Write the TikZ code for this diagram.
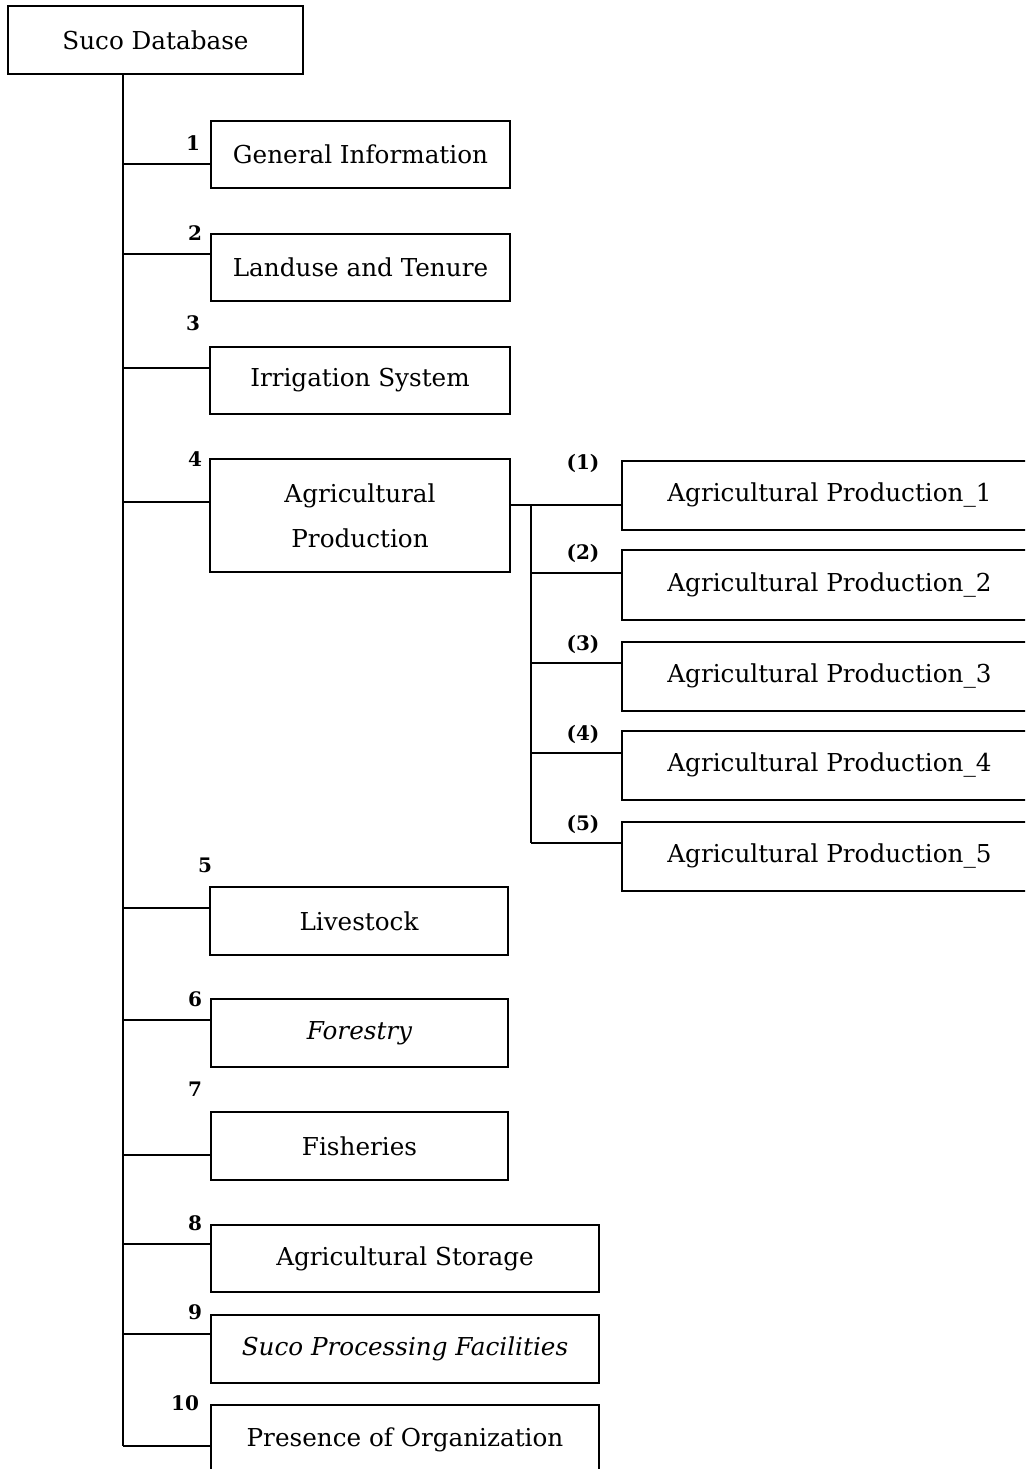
\documentclass[tikz,border=0pt]{standalone}
\usepackage{fontspec}
\setmainfont{DejaVu Serif}
\begin{document}
\begin{tikzpicture}[x=0.75pt,y=-0.75pt,
  line width=1.3pt,
  box/.style 2 args={draw, rectangle, line width=1.3pt, inner sep=0pt,
    minimum width=#1*0.75pt, minimum height=#2*0.75pt,
    font=\fontsize{18.5}{22}\selectfont, align=center},
  num/.style={font=\fontsize{15}{17}\selectfont\bfseries, inner sep=0pt}]
\clip (0,0) rectangle (1025,1469);
\fill[white] (0,0) rectangle (1025,1469);

% root and first-level boxes
\node[box={295}{68}] (root) at (155.5,40) {Suco Database};
\node[box={299}{67}] (g1) at (360.5,154.5) {General Information};
\node[box={299}{67}] (g2) at (360.5,267.5) {Landuse and Tenure};
\node[box={300}{67}] (g3) at (360,380.5) {Irrigation System};
\node[box={300}{113}] (g4) at (360,515.5) {Agricultural\\[12pt]Production};
\node[box={298}{68}] (g5) at (359,921) {Livestock};
\node[box={297}{68}] (g6) at (359.5,1033) {\itshape Forestry};
\node[box={297}{68}] (g7) at (359.5,1146) {Fisheries};
\node[box={388}{67}] (g8) at (405,1258.5) {Agricultural Storage};
\node[box={388}{68}] (g9) at (405,1349) {\itshape Suco Processing Facilities};
\node[box={388}{70}] (g10) at (405,1440) {Presence of Organization};

% second-level boxes (they run past the right edge)
\node[box={423}{69}] (p1) at (833.5,495.5) {\hspace*{-6pt}Agricultural Production\_1};
\node[box={423}{70}] (p2) at (833.5,585) {\hspace*{-6pt}Agricultural Production\_2};
\node[box={423}{69}] (p3) at (833.5,676.5) {\hspace*{-6pt}Agricultural Production\_3};
\node[box={423}{69}] (p4) at (833.5,765.5) {\hspace*{-6pt}Agricultural Production\_4};
\node[box={423}{69}] (p5) at (833.5,856.5) {\hspace*{-6pt}Agricultural Production\_5};

% numbers
\node[num] (n1) at (193,143) {1};
\node[num] (n2) at (195,233) {2};
\node[num] (n3) at (193,323) {3};
\node[num] (n4) at (195,459) {4};
\node[num] (n5) at (205,865) {5};
\node[num] (n6) at (195,999) {6};
\node[num] (n7) at (195,1089) {7};
\node[num] (n8) at (195,1223) {8};
\node[num] (n9) at (195,1312) {9};
\node[num] (n10) at (185,1403) {10};
\node[num] (m1) at (583,463) {(1)};
\node[num] (m2) at (583,553) {(2)};
\node[num] (m3) at (583,644) {(3)};
\node[num] (m4) at (583,734) {(4)};
\node[num] (m5) at (583,824) {(5)};

% main trunk
\coordinate (tb) at (123,1446);
\draw (root.south -| tb) -- (tb);
\coordinate (b1) at (123,164);
\coordinate (b2) at (123,254);
\coordinate (b3) at (123,368);
\coordinate (b4) at (123,502);
\coordinate (b5) at (123,908);
\coordinate (b6) at (123,1020);
\coordinate (b7) at (123,1155);
\coordinate (b8) at (123,1244);
\coordinate (b9) at (123,1334);
\draw (b1) -- (b1 -| g1.west);
\draw (b2) -- (b2 -| g2.west);
\draw (b3) -- (b3 -| g3.west);
\draw (b4) -- (b4 -| g4.west);
\draw (b5) -- (b5 -| g5.west);
\draw (b6) -- (b6 -| g6.west);
\draw (b7) -- (b7 -| g7.west);
\draw (b8) -- (b8 -| g8.west);
\draw (b9) -- (b9 -| g9.west);
\draw (tb) -- (tb -| g10.west);

% sub trunk for agricultural production
\coordinate (s1) at (531,505);
\coordinate (s2) at (531,573);
\coordinate (s3) at (531,663);
\coordinate (s4) at (531,753);
\coordinate (s5) at (531,843);
\draw (s1 -| g4.east) -- (s1 -| p1.west);
\draw (s1) -- (s5);
\draw (s2) -- (s2 -| p2.west);
\draw (s3) -- (s3 -| p3.west);
\draw (s4) -- (s4 -| p4.west);
\draw (s5) -- (s5 -| p5.west);
\end{tikzpicture}
\end{document}
